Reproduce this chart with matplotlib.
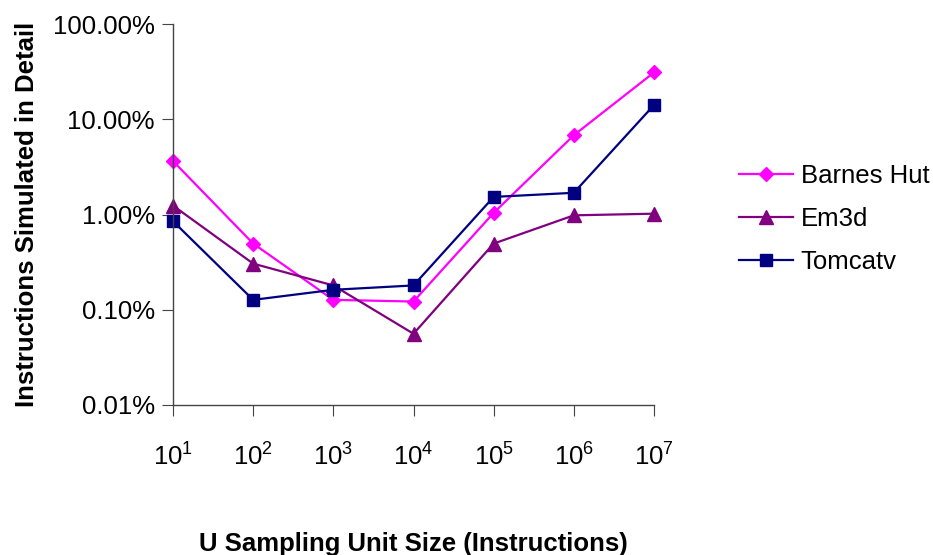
import matplotlib
matplotlib.use("Agg")
import matplotlib.pyplot as plt
from matplotlib.ticker import FixedLocator, FixedFormatter, NullLocator

plt.rcParams['font.family'] = ['Liberation Sans', 'DejaVu Sans']
plt.rcParams['mathtext.fontset'] = 'custom'
plt.rcParams['mathtext.rm'] = 'Liberation Sans'
plt.rcParams['mathtext.it'] = 'Liberation Sans'

unit_sizes = [1e1, 1e2, 1e3, 1e4, 1e5, 1e6, 1e7]
x_tick_labels = [r"$10^{1}$", r"$10^{2}$", r"$10^{3}$", r"$10^{4}$", r"$10^{5}$", r"$10^{6}$", r"$10^{7}$"]
barnes_hut = [3.64, 0.495, 0.127, 0.122, 1.04, 6.8, 31.0]
em3d = [1.24, 0.305, 0.18, 0.056, 0.495, 0.98, 1.02]
tomcatv = [0.85, 0.127, 0.162, 0.18, 1.53, 1.69, 14.1]
y_ticks = [0.01, 0.1, 1, 10, 100]
y_tick_labels = ["0.01%", "0.10%", "1.00%", "10.00%", "100.00%"]

FS = 18.5

fig = plt.figure(figsize=(9.33, 5.55), dpi=100)
ax = fig.add_axes([173/933, 1-405/555, (654-173)/933, (405-24)/555])

ax.plot(unit_sizes, barnes_hut, color='#FF00FF', marker='D', markersize=7.5, lw=1.6, label='Barnes Hut', clip_on=False)
ax.plot(unit_sizes, em3d, color='#800080', marker='^', markersize=9.5, lw=1.6, label='Em3d', clip_on=False)
ax.plot(unit_sizes, tomcatv, color='#000080', marker='s', markersize=8.5, lw=1.6, label='Tomcatv', clip_on=False)

ax.set_xscale('log')
ax.set_yscale('log')
ax.set_xlim(1e1, 1e7)
ax.set_ylim(0.01, 100)
ax.xaxis.set_major_locator(FixedLocator(unit_sizes))
ax.xaxis.set_major_formatter(FixedFormatter(x_tick_labels))
ax.xaxis.set_minor_locator(NullLocator())
ax.yaxis.set_major_locator(FixedLocator(y_ticks))
ax.yaxis.set_major_formatter(FixedFormatter(y_tick_labels))
ax.yaxis.set_minor_locator(NullLocator())

for s in ['top', 'right']:
    ax.spines[s].set_visible(False)
for s in ['left', 'bottom']:
    ax.spines[s].set_color('#444444')
    ax.spines[s].set_linewidth(1.0)
ax.tick_params(axis='both', direction='out', length=8, color='#444444', labelsize=FS)
ax.tick_params(axis='x', pad=20)
ax.tick_params(axis='y', pad=5)

ax.set_ylabel('Instructions Simulated in Detail', fontsize=FS, fontweight='bold', labelpad=10)
ax.set_xlabel('U Sampling Unit Size (Instructions)', fontsize=FS, fontweight='bold', labelpad=44)

leg = ax.legend(loc='center left', bbox_to_anchor=(739/933, 1-219/555), bbox_transform=fig.transFigure,
                frameon=False, fontsize=FS, handlelength=2.1, labelspacing=0.75, handletextpad=0.3,
                borderpad=0, borderaxespad=0)

fig.savefig('out.png', dpi=100)
